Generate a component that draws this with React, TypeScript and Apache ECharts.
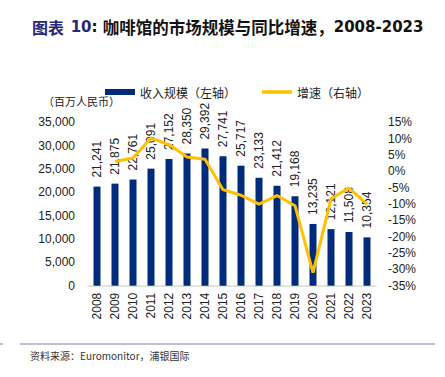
import React, { useEffect, useRef } from "react";
import * as echarts from "echarts";

const years = ["2008","2009","2010","2011","2012","2013","2014","2015","2016","2017","2018","2019","2020","2021","2022","2023"];
const revenue = [21241, 21875, 22761, 25091, 27152, 28350, 29392, 27741, 25717, 23133, 21412, 19168, 13235, 12121, 11508, 10354];
const growth = [null, 3.0, 4.1, 10.2, 8.2, 4.4, 3.7, -5.6, -7.3, -10.0, -7.4, -10.5, -31.0, -8.4, -5.1, -10.0];
const barName = "收入规模（左轴）";
const lineName = "增速（右轴）";

const FONT = "'Liberation Sans', 'Noto Sans CJK SC', sans-serif";
const CJK = "'Noto Sans CJK SC', sans-serif";
const DV = "'DejaVu Sans', sans-serif";

export default function App() {
  const ref = useRef<HTMLDivElement>(null);
  useEffect(() => {
    const chart = echarts.init(ref.current!, null, { renderer: "svg" });
    chart.setOption({
      animation: false,
      backgroundColor: "#ffffff",
      textStyle: { fontFamily: FONT },
      graphic: [
        {
          type: "text",
          left: 32,
          top: 19,
          style: {
            text: "{a|图表}  {b|10}{c|: }{d|咖啡馆的市场规模与同比增速，}{e|2008-2023}",
            rich: {
              a: { fontFamily: CJK, fontSize: 16, fontWeight: "bold", fill: "#27277a" },
              b: { fontFamily: DV, fontSize: 15, fontWeight: "bold", fill: "#27277a" },
              c: { fontFamily: DV, fontSize: 15, fontWeight: "bold", fill: "#111" },
              d: { fontFamily: CJK, fontSize: 16.5, fontWeight: "bold", fill: "#111" },
              e: { fontFamily: DV, fontSize: 15, fontWeight: "bold", fill: "#111" },
            },
          },
        },
        {
          type: "text",
          left: 43,
          top: 95,
          style: { text: "（百万人民币）", font: "11px 'Noto Sans CJK SC', sans-serif", fill: "#222" },
        },
        {
          type: "line",
          shape: { x1: 20, y1: 344, x2: 435, y2: 344 },
          style: { stroke: "#a9acc9", lineWidth: 1.5 },
        },
        {
          type: "line",
          shape: { x1: 0, y1: 344, x2: 3, y2: 344 },
          style: { stroke: "#a9acc9", lineWidth: 1.5 },
        },
        {
          type: "text",
          left: 30,
          top: 350,
          style: { text: "资料来源：Euromonitor，浦银国际", font: "10px 'Noto Sans CJK SC', sans-serif", fill: "#333" },
        },
      ],
      legend: {
        left: 100,
        top: 81,
        itemWidth: 30,
        itemHeight: 6,
        itemGap: 26,
        textStyle: { fontFamily: CJK, fontSize: 12, color: "#222" },
        data: [
          { name: barName, icon: "rect" },
          { name: lineName, icon: "path://M0,0 L30,0 L30,3.5 L0,3.5 Z" },
        ],
      },
      grid: { left: 88, right: 69, top: 122.4, bottom: 91.3 },
      xAxis: {
        type: "category",
        data: years,
        axisLine: { lineStyle: { color: "#d9d9d9", width: 1.5 } },
        axisTick: { show: false },
        axisLabel: { rotate: 90, fontSize: 12, color: "#222", margin: 7, fontFamily: FONT },
      },
      yAxis: [
        {
          type: "value",
          min: 0,
          max: 35000,
          interval: 5000,
          splitLine: { show: false },
          axisLine: { show: false },
          axisTick: { show: false },
          axisLabel: {
            fontSize: 12,
            color: "#222",
            margin: 13,
            fontFamily: FONT,
            formatter: (v: number) => v.toLocaleString("en-US"),
          },
        },
        {
          type: "value",
          min: -35,
          max: 15,
          interval: 5,
          splitLine: { show: false },
          axisLine: { show: false },
          axisTick: { show: false },
          axisLabel: { fontSize: 12, color: "#222", margin: 12, fontFamily: FONT, formatter: "{value}%" },
        },
      ],
      series: [
        {
          name: barName,
          type: "bar",
          data: revenue,
          barWidth: 7,
          itemStyle: { color: "#002b7a" },
          label: {
            show: true,
            position: "top",
            rotate: 90,
            align: "left",
            verticalAlign: "middle",
            distance: 9,
            fontSize: 12,
            color: "#222",
            fontFamily: FONT,
            formatter: (p: any) => Number(p.value).toLocaleString("en-US"),
          },
        },
        {
          name: lineName,
          type: "line",
          yAxisIndex: 1,
          data: growth,
          symbol: "none",
          lineStyle: { color: "#ffc000", width: 3 },
          itemStyle: { color: "#ffc000" },
          z: 3,
        },
      ],
    });
    return () => chart.dispose();
  }, []);
  return (
    <div
      ref={ref}
      style={{ position: "absolute", left: 0, top: 0, width: 445, height: 377 }}
    />
  );
}
